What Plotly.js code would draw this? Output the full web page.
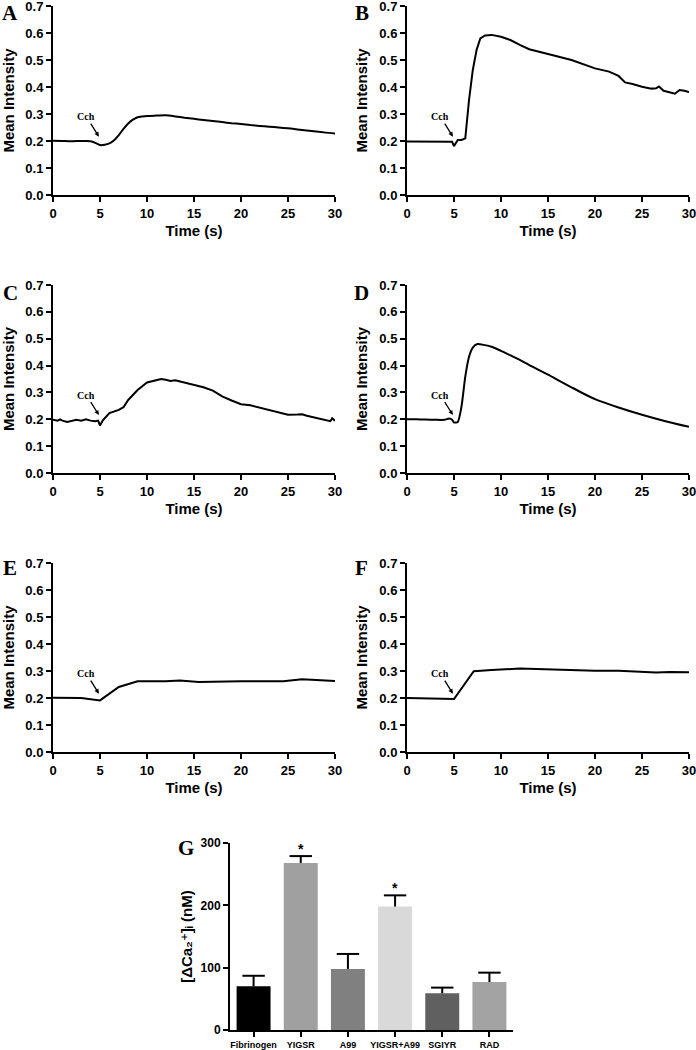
<!DOCTYPE html>
<html>
<head>
<meta charset="utf-8">
<script src="https://cdn.plot.ly/plotly-3.0.1.min.js"></script>
<style>
html,body{margin:0;padding:0;background:#fff;}
#chart{width:696px;height:1050px;}
</style>
</head>
<body>
<div id="chart"></div>
<script>
// ---------------- DATA ----------------
const timeA = [0,1,2,3,3.5,4,4.5,5,5.5,6,6.5,7,7.5,8,8.5,9,9.5,10,11,12,13,14,15,16,17,18,19,20,21,22,23,24,25,26,27,28,29,30];
const intensityA = [0.201,0.200,0.199,0.200,0.200,0.199,0.193,0.185,0.186,0.191,0.203,0.222,0.245,0.265,0.279,0.288,0.291,0.293,0.294,0.295,0.291,0.286,0.282,0.278,0.274,0.270,0.266,0.263,0.259,0.256,0.253,0.250,0.247,0.243,0.239,0.235,0.231,0.228];

const timeB = [0,1,2,3,4,4.5,4.8,5.0,5.4,5.8,6.2,6.6,7.0,7.4,7.8,8.3,9,10,11,12,13,15,17.5,20,21.5,22.5,23.2,24,25,26,26.5,26.8,27.3,28.5,29,29.5,30];
const intensityB = [0.198,0.198,0.199,0.199,0.198,0.198,0.197,0.181,0.204,0.204,0.210,0.352,0.463,0.537,0.580,0.591,0.593,0.586,0.574,0.556,0.540,0.522,0.500,0.469,0.457,0.441,0.417,0.411,0.401,0.394,0.395,0.402,0.386,0.375,0.389,0.386,0.381];

const timeC = [0,0.5,0.75,1,1.5,2,2.5,3,3.5,4,4.5,4.8,5.0,5.3,6,7,7.5,8,9,10,11,11.5,12,12.5,13,14,15,16,17,18,19,20,21,22,23,24,25,26,26.5,27,28,29,29.5,29.7,30];
const intensityC = [0.198,0.195,0.200,0.195,0.190,0.193,0.198,0.195,0.200,0.195,0.193,0.195,0.177,0.196,0.223,0.235,0.245,0.272,0.309,0.337,0.347,0.350,0.347,0.343,0.345,0.337,0.328,0.319,0.307,0.285,0.270,0.256,0.252,0.243,0.235,0.225,0.217,0.218,0.219,0.213,0.204,0.196,0.193,0.204,0.194];

const timeD = [0,1,2,3,4,4.5,4.8,5.0,5.4,5.8,6.2,6.6,7.0,7.5,8,9,10,11,12,13,14,15,17.5,20,22.5,25,27.5,30];
const intensityD = [0.200,0.200,0.199,0.198,0.198,0.203,0.198,0.188,0.190,0.248,0.359,0.433,0.467,0.480,0.478,0.470,0.455,0.438,0.421,0.402,0.384,0.366,0.319,0.275,0.244,0.217,0.193,0.172];

const timeE = [0,3,5,7,9,12,13.5,15.5,20,24.5,26.5,28,30];
const intensityE = [0.201,0.200,0.191,0.241,0.262,0.262,0.265,0.259,0.262,0.262,0.269,0.267,0.263];

const timeF = [0,5,7.1,9,12,15,20,22.5,26.5,28,30];
const intensityF = [0.200,0.196,0.299,0.304,0.309,0.305,0.301,0.301,0.294,0.296,0.295];

const panelLabels = ['A','B','C','D','E','F','G'];

const groups = ['Fibrinogen','YIGSR','A99','YIGSR+A99','SGIYR','RAD'];
const deltaCa = [70,268,98,198,59,77];
const deltaCaSEM = [17,11,24,18,9,15];
const barColors = ['#000000','#a0a0a0','#808080','#d9d9d9','#606060','#a3a3a3'];
const significant = [false,true,false,true,false,false];

const yTicksIntensity = [0,0.1,0.2,0.3,0.4,0.5,0.6,0.7];
const xTicksTime = [0,5,10,15,20,25,30];
const yTicksCa = [0,100,200,300];

// ---------------- LAYOUT ----------------
const W = 696, H = 1050;
const px = v => v / W;
const py = v => 1 - v / H;

const FONT = 'Liberation Sans, Arial, sans-serif';
const SERIF = 'Liberation Serif, Times New Roman, serif';

// panel boxes in pixels: [left, right, top, bottom]
const boxes = [
  [53, 335, 6, 195],
  [407, 689, 6, 195],
  [53, 335, 285, 473],
  [407, 689, 285, 473],
  [53, 335, 563, 752],
  [407, 689, 563, 752],
  [230, 513, 843, 1030]
];
const labelPos = [[10,13],[362,13],[10,293],[362,293],[10,568],[362,568],[186,848]];

const times = [timeA,timeB,timeC,timeD,timeE,timeF];
const vals = [intensityA,intensityB,intensityC,intensityD,intensityE,intensityF];
const shapes = ['spline','linear','linear','spline','linear','linear'];

const data = [];
const layout = {
  width: W, height: H,
  margin: {l:0,r:0,t:0,b:0},
  paper_bgcolor: '#fff', plot_bgcolor: '#fff',
  showlegend: false,
  font: {family: FONT, color: '#000'},
  annotations: []
};

function axisBase() {
  return {
    showline: true, linecolor: '#000', linewidth: 2,
    ticks: 'outside', ticklen: 5, tickwidth: 2, tickcolor: '#000',
    showgrid: false, zeroline: false, fixedrange: true,
    ticklabeloverflow: 'allow',
    tickfont: {family: FONT, size: 13, weight: 'bold', color: '#000'}
  };
}

for (let i = 0; i < 6; i++) {
  const n = i + 1;
  const xk = n === 1 ? 'x' : 'x' + n;
  const yk = n === 1 ? 'y' : 'y' + n;
  data.push({
    x: times[i], y: vals[i], xaxis: xk, yaxis: yk,
    type: 'scatter', mode: 'lines',
    line: {color: '#000', width: 2, shape: shapes[i], smoothing: 0.6},
    hoverinfo: 'skip'
  });
  const b = boxes[i];
  const xa = axisBase();
  Object.assign(xa, {
    domain: [px(b[0]), px(b[1])], anchor: yk, range: [0, 30],
    tickvals: xTicksTime,
    title: {text: 'Time (s)', font: {family: FONT, size: 15, weight: 'bold'}, standoff: 6}
  });
  const ya = axisBase();
  Object.assign(ya, {
    domain: [py(b[3]), py(b[2])], anchor: xk, range: [0, 0.7],
    tickvals: yTicksIntensity, tickformat: '.1f',
    title: {text: 'Mean Intensity', font: {family: FONT, size: 15, weight: 'bold'}, standoff: 8}
  });
  layout[n === 1 ? 'xaxis' : 'xaxis' + n] = xa;
  layout[n === 1 ? 'yaxis' : 'yaxis' + n] = ya;

  // Cch label with arrow
  layout.annotations.push({
    xref: xk, yref: yk, axref: xk, ayref: yk,
    x: 4.88, y: 0.216, ax: 3.55, ay: 0.29,
    text: 'Cch', showarrow: true, arrowhead: 2, arrowsize: 0.7, arrowwidth: 1.3, arrowcolor: '#000',
    font: {family: SERIF, size: 10, weight: 'bold', color: '#000'}
  });
}

// Bar chart G
data.push({
  type: 'bar', x: groups, y: deltaCa, xaxis: 'x7', yaxis: 'y7',
  width: 0.72,
  marker: {color: barColors, line: {width: 0}},
  error_y: {type: 'data', symmetric: false, array: deltaCaSEM,
            arrayminus: deltaCa.map(() => 0), color: '#000', thickness: 2, width: 0},
  hoverinfo: 'skip'
});
// error-bar caps
data.push({
  type: 'scatter', mode: 'markers', x: groups,
  y: deltaCa.map((v, k) => v + deltaCaSEM[k]), xaxis: 'x7', yaxis: 'y7',
  marker: {symbol: 'line-ew', size: 16, color: '#000', line: {width: 2, color: '#000'}},
  hoverinfo: 'skip', cliponaxis: false
});
{
  const b = boxes[6];
  const xa = axisBase();
  Object.assign(xa, {
    domain: [px(b[0]), px(b[1])], anchor: 'y7', type: 'category',
    range: [-0.5, 5.5],
    tickfont: {family: FONT, size: 9, weight: 'bold', color: '#000'}
  });
  const ya = axisBase();
  Object.assign(ya, {
    domain: [py(b[3]), py(b[2])], anchor: 'x7', range: [0, 300],
    tickvals: yTicksCa,
    tickfont: {family: FONT, size: 12, weight: 'bold', color: '#000'},
    title: {text: '[ΔCa₂⁺]ᵢ (nM)', font: {family: 'Liberation Sans, DejaVu Sans, sans-serif', size: 15, weight: 'bold'}, standoff: 4}
  });
  layout.xaxis7 = xa;
  layout.yaxis7 = ya;
  groups.forEach((g, k) => {
    if (significant[k]) {
      layout.annotations.push({
        xref: 'x7', yref: 'y7', x: g, y: deltaCa[k] + deltaCaSEM[k],
        yanchor: 'bottom', yshift: -3,
        text: '*', showarrow: false,
        font: {family: FONT, size: 14, weight: 'bold', color: '#000'}
      });
    }
  });
}

// panel letters
panelLabels.forEach((t, k) => {
  layout.annotations.push({
    xref: 'paper', yref: 'paper', x: px(labelPos[k][0]), y: py(labelPos[k][1]),
    xanchor: 'center', yanchor: 'middle', text: t, showarrow: false,
    font: {family: SERIF, size: 21, weight: 'bold', color: '#000'}
  });
});

Plotly.newPlot('chart', data, layout, {staticPlot: true, displayModeBar: false});
</script>
</body>
</html>
